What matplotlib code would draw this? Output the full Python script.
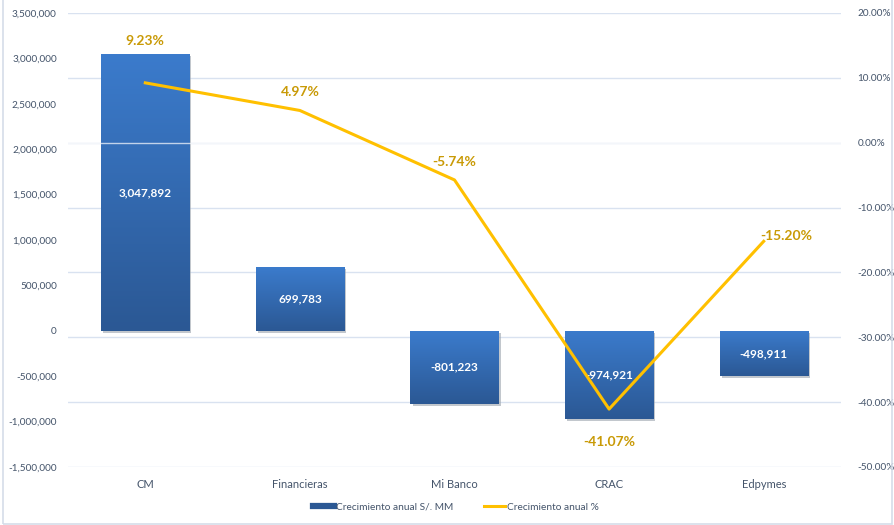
import numpy as np
import matplotlib.pyplot as plt
from matplotlib.patches import Rectangle
from matplotlib.lines import Line2D
from matplotlib.ticker import FuncFormatter
import matplotlib.patheffects as pe

plt.rcParams['font.family'] = ['Lato', 'DejaVu Sans']

categorias = ["CM", "Financieras", "Mi Banco", "CRAC", "Edpymes"]
crecimiento_mm = [3047892, 699783, -801223, -974921, -498911]
crecimiento_pct = [9.23, 4.97, -5.74, -41.07, -15.20]

azul_claro = "#3b7bcc"
azul_oscuro = "#2b5894"
dorado = "#ffc000"
dorado_txt = "#c99a06"
gris_txt = "#44546a"
grid_col = "#d9e2f0"

# desplazamiento (en puntos) de cada etiqueta de porcentaje
offs_pct = [(0, 30), (0, 13), (0, 13), (0, -24), (16, 4)]

fig = plt.figure(figsize=(8.94, 5.25), dpi=100)
fig.patches.append(Rectangle((3 / 894, 1 / 525), 889 / 894, 530 / 525, transform=fig.transFigure,
                             fill=False, edgecolor="#d5dde9", lw=1.2))

rect = [68 / 894, 1 - 467 / 525, (841 - 68) / 894, (467 - 13) / 525]

# eje derecho: solo ticks y grilla (detras de las barras)
ax_r = fig.add_axes(rect)
ax_r.set_xlim(-0.5, 4.5)
ax_r.set_ylim(-50, 20)
ax_r.set_yticks(np.arange(-50, 21, 10))
ax_r.yaxis.tick_right()
ax_r.yaxis.set_major_formatter(FuncFormatter(lambda v, p: f"{v:.2f}%"))
ax_r.set_xticks([])
ax_r.grid(axis="y", color=grid_col, lw=1)
ax_r.tick_params(axis="y", length=0, pad=12, labelsize=7.2, labelcolor=gris_txt)
for s in ax_r.spines.values():
    s.set_visible(False)

# barras
ax = fig.add_axes(rect)
ax.patch.set_visible(False)
x = np.arange(len(categorias))
ax.set_yticks(np.arange(-1500000, 3500001, 500000))
ax.yaxis.set_major_formatter(FuncFormatter(lambda v, p: f"{v:,.0f}"))
ax.tick_params(axis="y", length=0, pad=8, labelsize=7.2, labelcolor=gris_txt)
ax.set_xticks(x)
ax.set_xticklabels(categorias)
ax.tick_params(axis="x", length=0, pad=9, labelsize=8, labelcolor=gris_txt)
for s in ax.spines.values():
    s.set_visible(False)

bars = ax.bar(x, crecimiento_mm, width=0.57, color=azul_claro, zorder=2,
              path_effects=[pe.SimplePatchShadow(offset=(1.5, -1.5), shadow_rgbFace="#9aa3ad", alpha=0.6),
                            pe.Normal()])
grad = np.linspace(0, 1, 256).reshape(-1, 1)
cmap = plt.matplotlib.colors.LinearSegmentedColormap.from_list("azul", [azul_claro, azul_oscuro])
for b, v in zip(bars, crecimiento_mm):
    x0, w = b.get_x(), b.get_width()
    lo, hi = min(0, v), max(0, v)
    im = ax.imshow(grad, cmap=cmap, aspect="auto", extent=(x0, x0 + w, lo, hi),
                   origin="upper", zorder=3)
    im.set_clip_path(b)
    ax.text(b.get_x() + w / 2, v / 2, f"{v:,.0f}", ha="center", va="center",
            color="white", fontsize=8.5, fontweight="bold", zorder=5)
ax.set_xlim(-0.5, 4.5)
ax.set_ylim(-1500000, 3500000)

# linea de crecimiento %
ax_l = ax.twinx()
ax_l.set_ylim(-50, 20)
ax_l.set_yticks([])
for s in ax_l.spines.values():
    s.set_visible(False)
ax_l.axhline(0, color="white", lw=1, alpha=0.7, zorder=1)
ax_l.plot(x, crecimiento_pct, color=dorado, lw=2.2, zorder=3)
for xi, p, off in zip(x, crecimiento_pct, offs_pct):
    ax_l.annotate(f"{p:.2f}%", (xi, p), xytext=off, textcoords="offset points",
                  ha="center", va="center", color=dorado_txt, fontsize=10, fontweight="bold")

handles = [Line2D([0], [0], color=azul_oscuro, lw=4.5),
           Line2D([0], [0], color=dorado, lw=2.2)]
fig.legend(handles, ["Crecimiento anual S/. MM", "Crecimiento anual %"],
           loc="center", bbox_to_anchor=(0.51, 1 - 507 / 525), ncol=2, frameon=False,
           fontsize=7.3, labelcolor=gris_txt, handlelength=2.1, handletextpad=0.2,
           columnspacing=3.0)

fig.savefig("out.png", dpi=100)
